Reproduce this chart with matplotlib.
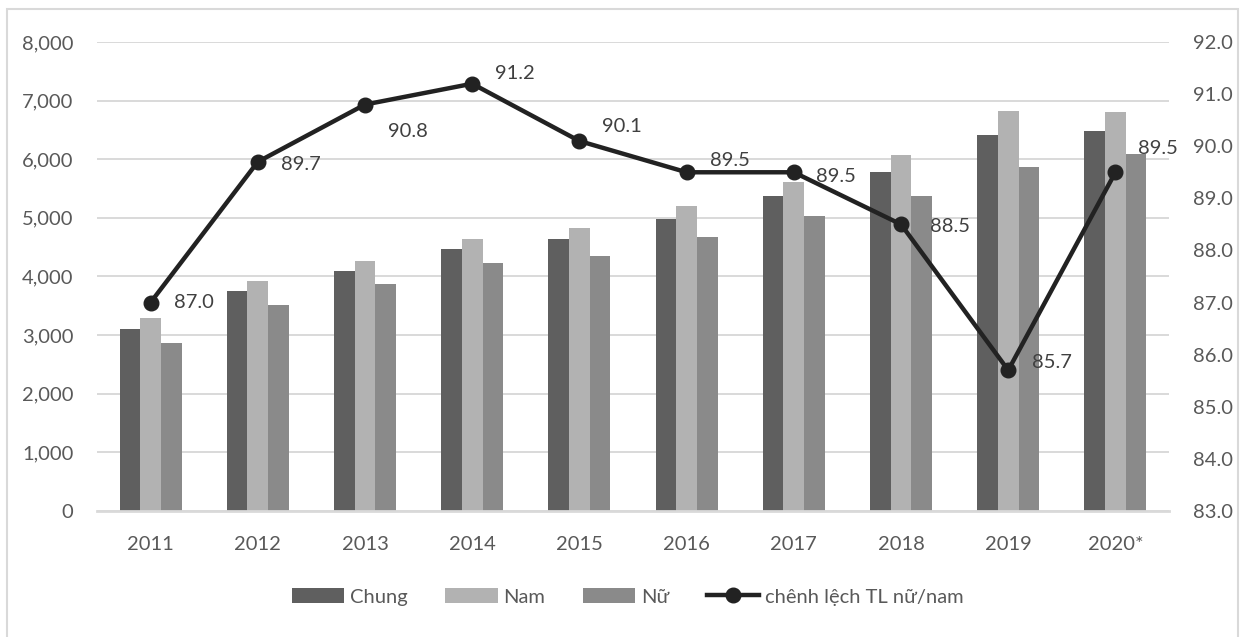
import numpy as np
import matplotlib.pyplot as plt
from matplotlib.patches import Rectangle
from matplotlib.ticker import FuncFormatter, MultipleLocator

plt.rcParams['font.family'] = ['Lato', 'DejaVu Sans']

# data
years = ['2011', '2012', '2013', '2014', '2015', '2016', '2017', '2018', '2019', '2020*']
chung = [3110, 3750, 4100, 4470, 4640, 4980, 5370, 5775, 6410, 6490]
nam = [3290, 3920, 4260, 4640, 4835, 5205, 5620, 6075, 6830, 6805]
nu = [2860, 3510, 3870, 4230, 4355, 4665, 5035, 5375, 5860, 6085]
ty_le = [87.0, 89.7, 90.8, 91.2, 90.1, 89.5, 89.5, 88.5, 85.7, 89.5]

# label offsets in pixels (dx, dy) for the line labels
lbl_off = [(23, 0), (23, -3), (23, -27), (23, 10), (23, 15),
           (23, 12), (22, -4), (29, -2), (24, 8), (23, 24)]

c_chung = '#5f5f5f'
c_nam = '#b2b2b2'
c_nu = '#8a8a8a'
c_line = '#222222'
c_text = '#595959'
c_grid = '#d9d9d9'
fs = 14.5

fig = plt.figure(figsize=(12.43, 6.37), dpi=100)
ax = fig.add_axes([0.078, 0.198, 0.8625, 0.736])

x = np.arange(len(years))
w = 0.193
ax.bar(x - w, chung, w, color=c_chung, label='Chung', zorder=2)
ax.bar(x, nam, w, color=c_nam, label='Nam', zorder=2)
ax.bar(x + w, nu, w, color=c_nu, label='Nữ', zorder=2)

ax.set_xlim(-0.5, len(years) - 0.5)
ax.set_ylim(0, 8000)
ax.yaxis.set_major_locator(MultipleLocator(1000))
ax.yaxis.set_major_formatter(FuncFormatter(lambda v, p: f'{v:,.0f}'))
ax.set_xticks(x)
ax.set_xticklabels(years)
ax.grid(axis='y', color=c_grid, linewidth=1.4, zorder=0)
ax.set_axisbelow(True)
for s in ['top', 'right', 'left']:
    ax.spines[s].set_visible(False)
ax.spines['bottom'].set_color(c_grid)
ax.spines['bottom'].set_linewidth(2)
ax.tick_params(axis='both', length=0, labelsize=fs, colors=c_text)
ax.tick_params(axis='x', pad=18)
ax.tick_params(axis='y', pad=17)

ax2 = ax.twinx()
ax2.set_ylim(83, 92)
ax2.yaxis.set_major_locator(MultipleLocator(1))
ax2.yaxis.set_major_formatter(FuncFormatter(lambda v, p: f'{v:.1f}'))
for s in ax2.spines.values():
    s.set_visible(False)
ax2.tick_params(axis='y', length=0, labelsize=fs, colors=c_text, pad=17)
ax2.plot(x, ty_le, color=c_line, linewidth=3.2, marker='o', markersize=10.5,
         label='chênh lệch TL nữ/nam', zorder=4)
for xi, v, (dx, dy) in zip(x, ty_le, lbl_off):
    ax2.annotate(f'{v:.1f}', (xi, v), xytext=(dx, dy), textcoords='offset pixels',
                 ha='left', va='center', fontsize=fs, color='#404040')

h1, l1 = ax.get_legend_handles_labels()
h2, l2 = ax2.get_legend_handles_labels()
fig.legend(h1 + h2, l1 + l2, loc='center', bbox_to_anchor=(0.505, 0.063), ncol=4,
           frameon=False, fontsize=fs, labelcolor=c_text, handlelength=2.6,
           handleheight=0.8, handletextpad=0.3, columnspacing=1.85)

# outer chart border
fig.patches.append(Rectangle((7 / 1243, -0.01), 1231 / 1243, 1 - 9 / 637 + 0.01,
                             transform=fig.transFigure, fill=False,
                             edgecolor=c_grid, linewidth=1.5))

fig.savefig('out.png', dpi=100)
